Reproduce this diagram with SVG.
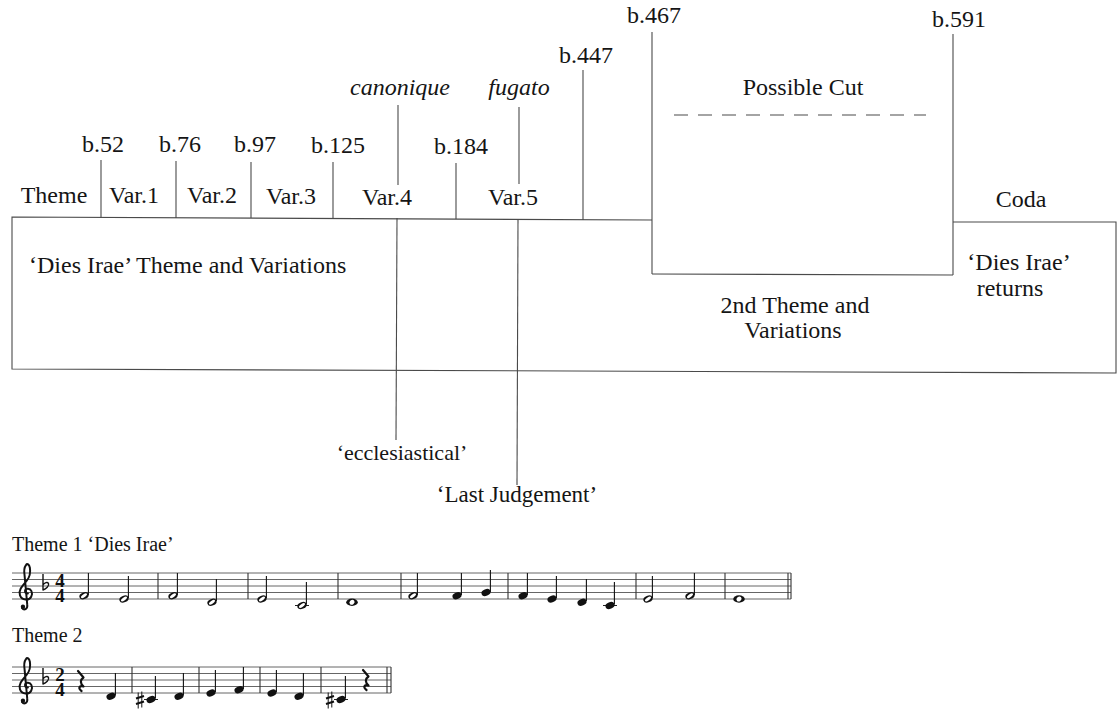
<svg xmlns="http://www.w3.org/2000/svg" xmlns:xlink="http://www.w3.org/1999/xlink" width="1119" height="711" viewBox="0 0 1119 711">
  <style>
    .lbl { font-family: "Liberation Serif", "Times New Roman", serif; font-size: 24px; fill: #151515; }
    .mid { text-anchor: middle; }
    .it { font-style: italic; }
    .small { font-size: 20px; }
    .ln { stroke: #4a4a4a; stroke-width: 1.1; fill: none; }
    .dash { stroke: #4a4a4a; stroke-width: 1.1; stroke-dasharray: 14 10; fill: none; }
    .staff { stroke: #555; stroke-width: 0.9; fill: none; }
    .bar { stroke: #333; stroke-width: 1.1; }
    .stem { stroke: #111; stroke-width: 1.1; }
    .ledger { stroke: #222; stroke-width: 1.1; }
    .tsig { font-family: "Liberation Serif", "Times New Roman", serif; font-weight: bold; font-size: 19px; fill: #111;
            writing-mode: vertical-rl; text-orientation: upright; letter-spacing: -6px; }
  </style>
  <defs>
    <!-- note heads -->
    <g id="hh">
      <ellipse rx="4.8" ry="3.3" transform="rotate(-22)" fill="#111"/>
      <ellipse rx="3.5" ry="1.4" transform="rotate(-35)" fill="#fff"/>
    </g>
    <ellipse id="qh" rx="4.7" ry="3.3" transform="rotate(-22)" fill="#111"/>
    <g id="wh">
      <ellipse rx="5.8" ry="3.7" fill="#111"/>
      <ellipse rx="2.7" ry="2.3" transform="rotate(-40)" fill="#fff"/>
    </g>
    <!-- treble clef, staff spacing 10 units, top line at y=0 -->
    <g id="clef">
      <path d="M15,31 C10,32 9,25 14,24 C20,23 23,30 20,36 C17,42 6,42 3,34 C0,26 7,19 13,12 C18,6 19,-2 18,-8 C17,-13 14,-15 12,-12 C9,-8 9,-2 10,4 L14,48 C15,55 9,57 6,53" fill="none" stroke="#111" stroke-width="3" stroke-linecap="round"/>
      <circle cx="7.5" cy="51" r="3.3" fill="#111"/>
    </g>
    <!-- flat sign, origin on the B line -->
    <path id="flat" d="M0,-12 V4 C3,3 6.5,0 5.5,-2.5 C4.5,-4.5 1.5,-3.5 0,-1" fill="none" stroke="#111" stroke-width="1.4" stroke-linejoin="round"/>
    <!-- sharp sign, centred on its note -->
    <g id="sharp" stroke="#111">
      <path d="M-1.8,-7.5 V8.5 M1.8,-8.5 V7.5" stroke-width="1"/>
      <path d="M-4,-1.5 L4,-4 M-4,4 L4,1.5" stroke-width="2"/>
    </g>
    <!-- quarter rest -->
    <path id="rest" d="M0,0 L5.5,6.5 C2,9 2,12 5.5,15.5 C1,14 0,17.5 3.5,20" fill="none" stroke="#111" stroke-width="2.2" stroke-linejoin="round" stroke-linecap="round"/>
  </defs>

  <rect width="1119" height="711" fill="#fff"/>

  <!-- section boxes -->
  <g id="dies-irae-block">
    <path class="ln" d="M652,220 L12,217 L12,369 L1116,373 L1116,222 L953,222"/>
    <text class="lbl" x="29" y="273">‘Dies Irae’ Theme and Variations</text>
  </g>
  <g id="possible-cut">
    <path class="ln" d="M652,274 L953,275"/>
    <path class="dash" d="M674,115 L926,115"/>
    <text class="lbl mid" x="803" y="95">Possible Cut</text>
  </g>
  <g id="second-theme">
    <text class="lbl mid" x="795" y="313">2nd Theme and</text>
    <text class="lbl mid" x="793" y="338">Variations</text>
  </g>
  <g id="coda">
    <text class="lbl mid" x="1021" y="207">Coda</text>
    <text class="lbl mid" x="1019" y="270">‘Dies Irae’</text>
    <text class="lbl mid" x="1010" y="296">returns</text>
  </g>

  <!-- section labels along the top edge -->
  <g id="sections">
    <text class="lbl mid" x="54" y="203">Theme</text>
    <text class="lbl mid" x="134" y="203">Var.1</text>
    <text class="lbl mid" x="212" y="203">Var.2</text>
    <text class="lbl mid" x="291" y="204">Var.3</text>
    <text class="lbl mid" x="387" y="205">Var.4</text>
    <text class="lbl mid" x="513" y="205">Var.5</text>
  </g>

  <!-- bar numbers and annotations -->
  <g id="bar-labels">
    <text class="lbl mid" x="103" y="152">b.52</text>
    <text class="lbl mid" x="180" y="152">b.76</text>
    <text class="lbl mid" x="255" y="152">b.97</text>
    <text class="lbl mid" x="338" y="153">b.125</text>
    <text class="lbl mid" x="461" y="154">b.184</text>
    <text class="lbl mid" x="586" y="63">b.447</text>
    <text class="lbl mid" x="654" y="23">b.467</text>
    <text class="lbl mid" x="959" y="27">b.591</text>
    <text class="lbl mid it" x="400" y="95">canonique</text>
    <text class="lbl mid it" x="519" y="95">fugato</text>
    <text class="lbl mid" x="402" y="460" style="font-size:22px">‘ecclesiastical’</text>
    <text class="lbl mid" x="517" y="502" style="font-size:23px">‘Last Judgement’</text>
  </g>

  <!-- marker lines -->
  <g id="connectors">
    <line class="ln" x1="101" y1="160" x2="101" y2="218"/>
    <line class="ln" x1="176" y1="161" x2="176" y2="218"/>
    <line class="ln" x1="251" y1="162" x2="251" y2="218"/>
    <line class="ln" x1="333" y1="162" x2="333" y2="219"/>
    <line class="ln" x1="456" y1="163" x2="456" y2="219"/>
    <line class="ln" x1="398" y1="105" x2="398" y2="185"/>
    <line class="ln" x1="397" y1="218" x2="396" y2="440"/>
    <line class="ln" x1="519" y1="107" x2="519" y2="184"/>
    <line class="ln" x1="518" y1="219" x2="517" y2="485"/>
    <line class="ln" x1="583" y1="70" x2="583" y2="220"/>
    <line class="ln" x1="652" y1="32" x2="652" y2="274"/>
    <line class="ln" x1="953" y1="34" x2="953" y2="275"/>
  </g>

  <!-- Theme 1: Dies Irae -->
  <g id="theme1">
    <text class="lbl small" x="12" y="551">Theme 1 ‘Dies Irae’</text>
    <path class="staff" d="M12,573 H791 M12,579.5 H791 M12,586 H791 M12,592.5 H791 M12,599 H791"/>
    <use xlink:href="#clef" transform="translate(18,573) scale(0.66)"/>
    <use xlink:href="#flat" x="43" y="586"/>
    <text class="tsig" x="60" y="570">44</text>
    <!-- barlines -->
    <path class="bar" d="M158,573 V599 M248,573 V599 M338,573 V599 M401,573 V599 M508,573 V599 M636,573 V599 M725,573 V599 M788,573 V599 M791,573 V599"/>
    <!-- ledger lines for C -->
    <path class="ledger" d="M295,605.5 H309 M603,605.5 H617"/>
    <!-- heads -->
    <use xlink:href="#hh" x="84" y="595.75"/>
    <use xlink:href="#hh" x="124" y="599"/>
    <use xlink:href="#hh" x="173" y="595.75"/>
    <use xlink:href="#hh" x="212" y="602.25"/>
    <use xlink:href="#hh" x="262" y="599"/>
    <use xlink:href="#hh" x="302" y="605.5"/>
    <use xlink:href="#wh" x="352" y="602.25"/>
    <use xlink:href="#hh" x="413" y="595.75"/>
    <use xlink:href="#qh" x="457" y="595.75"/>
    <use xlink:href="#qh" x="486" y="592.5"/>
    <use xlink:href="#qh" x="523" y="595.75"/>
    <use xlink:href="#qh" x="552" y="599"/>
    <use xlink:href="#qh" x="582" y="602.25"/>
    <use xlink:href="#qh" x="610" y="605.5"/>
    <use xlink:href="#hh" x="648" y="599"/>
    <use xlink:href="#hh" x="690" y="595.75"/>
    <use xlink:href="#wh" x="739" y="599"/>
    <!-- stems -->
    <path class="stem" d="M88.4,595 V573 M128.4,598 V576 M177.4,595 V573 M216.4,601 V579 M266.4,598 V576 M306.4,604.5 V582 M417.4,595 V573 M461.4,595 V573 M490.4,592 V570 M527.4,595 V573 M556.4,598 V576 M586.4,601 V579 M614.4,604.5 V582 M652.4,598 V576 M694.4,595 V573"/>
  </g>

  <!-- Theme 2 -->
  <g id="theme2">
    <text class="lbl small" x="12" y="642">Theme 2</text>
    <path class="staff" d="M12,667 H391 M12,673.5 H391 M12,680 H391 M12,686.5 H391 M12,693 H391"/>
    <use xlink:href="#clef" transform="translate(18,667) scale(0.66)"/>
    <use xlink:href="#flat" x="43" y="680"/>
    <text class="tsig" x="60" y="664">24</text>
    <use xlink:href="#rest" x="78" y="671"/>
    <use xlink:href="#rest" x="363" y="670"/>
    <path class="bar" d="M132,667 V693 M199,667 V693 M260,667 V693 M321,667 V693 M387,667 V693 M391,667 V693"/>
    <path class="ledger" d="M144,699.5 H158 M334,699.5 H348"/>
    <use xlink:href="#sharp" x="140" y="700"/>
    <use xlink:href="#sharp" x="330" y="700"/>
    <use xlink:href="#qh" x="111" y="696.25"/>
    <use xlink:href="#qh" x="151" y="699.5"/>
    <use xlink:href="#qh" x="179" y="696.25"/>
    <use xlink:href="#qh" x="211" y="693"/>
    <use xlink:href="#qh" x="239" y="689.75"/>
    <use xlink:href="#qh" x="272" y="693"/>
    <use xlink:href="#qh" x="299" y="696.25"/>
    <use xlink:href="#qh" x="341" y="699.5"/>
    <path class="stem" d="M115.4,695.5 V673 M155.4,698.5 V676 M183.4,695.5 V673 M215.4,692 V670 M243.4,689 V667 M276.4,692 V670 M303.4,695.5 V673 M345.4,698.5 V676"/>
  </g>
</svg>
